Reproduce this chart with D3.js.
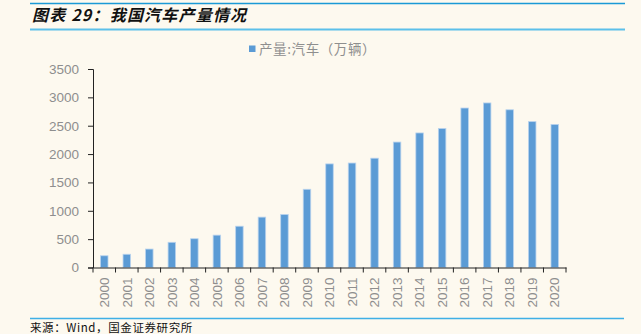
<!DOCTYPE html>
<html>
<head>
<meta charset="utf-8">
<script src="https://cdn.jsdelivr.net/npm/d3@7/dist/d3.min.js"></script>
<style>
  html, body { margin: 0; padding: 0; background: #fdf9ef; }
  svg { display: block; }
</style>
</head>
<body>
<svg id="chart" width="641" height="334"></svg>
<script>
// China vehicle production, 10k units
const years = ["2000","2001","2002","2003","2004","2005","2006","2007","2008","2009","2010",
               "2011","2012","2013","2014","2015","2016","2017","2018","2019","2020"];
const production = [206.9, 233.4, 325.1, 444.4, 507.1, 570.5, 727.9, 888.2, 934.5, 1379.1, 1826.5,
                    1841.9, 1927.2, 2211.7, 2372.5, 2450.3, 2811.9, 2901.5, 2780.9, 2572.1, 2522.5];
const yTicks = [0, 500, 1000, 1500, 2000, 2500, 3000, 3500];
const titleText = "图表 29：我国汽车产量情况";
const seriesName = "产量:汽车（万辆）";
const sourceText = "来源：Wind，国金证券研究所";

const svg = d3.select("#chart");
const W = 641, H = 334;
svg.append("rect").attr("width", W).attr("height", H).attr("fill", "#fdf9ef");

const cjk = "'Noto Sans CJK SC', 'Noto Sans', sans-serif";
const latin = "'Liberation Sans', Arial, sans-serif";

// header rules and title
svg.append("line").attr("x1", 30).attr("x2", 625).attr("y1", 3.5).attr("y2", 3.5)
  .attr("stroke", "#1b9ad6").attr("stroke-width", 1.3);
svg.append("line").attr("x1", 30).attr("x2", 625).attr("y1", 29.5).attr("y2", 29.5)
  .attr("stroke", "#5cc0ea").attr("stroke-width", 2);
svg.append("text").attr("x", 32).attr("y", 21)
  .attr("font-family", cjk).attr("font-size", 16).attr("font-weight", "bold")
  .attr("font-style", "italic").attr("letter-spacing", 1.2).attr("fill", "#111")
  .text(titleText);

// footer rule and source
svg.append("line").attr("x1", 30).attr("x2", 624).attr("y1", 318.5).attr("y2", 318.5)
  .attr("stroke", "#3fb0e6").attr("stroke-width", 1.3);
svg.append("text").attr("x", 30).attr("y", 331.5)
  .attr("font-family", cjk).attr("font-size", 11.5).attr("letter-spacing", 0.6).attr("fill", "#111")
  .text(sourceText);

// scales
const x = d3.scaleBand().domain(years).range([93, 566]).paddingInner(0).paddingOuter(0);
const y = d3.scaleLinear().domain([0, 3500]).range([267.5, 69]);
const barW = 7.5;

// bars
svg.append("g").selectAll("rect").data(years).join("rect")
  .attr("x", d => x(d) + x.bandwidth() / 2 - barW / 2)
  .attr("width", barW)
  .attr("y", (d, i) => y(production[i]))
  .attr("height", (d, i) => y(0) - y(production[i]))
  .attr("fill", "#5b9bd5")
  .attr("stroke", "#b9d3ee").attr("stroke-width", 0.8);

// y axis
const yAxis = svg.append("g").attr("transform", "translate(93,0)")
  .call(d3.axisLeft(y).tickValues(yTicks).tickSize(5).tickPadding(9).tickFormat(d3.format("d")));
yAxis.select(".domain").attr("stroke", "#222");
yAxis.selectAll(".tick line").attr("stroke", "#222");
yAxis.selectAll("text").attr("font-family", latin).attr("font-size", 13.5).attr("fill", "#8e8e8e");

// x axis with ticks at category boundaries
const xAxis = svg.append("g").attr("transform", `translate(0,${y(0)})`)
  .call(d3.axisBottom(x).tickSize(0).tickSizeOuter(0));
xAxis.select(".domain").attr("stroke", "#222");
xAxis.selectAll(".tick text")
  .attr("font-family", latin).attr("font-size", 13.5).attr("fill", "#8e8e8e")
  .attr("transform", "rotate(-90)")
  .attr("text-anchor", "end")
  .attr("dy", "0.35em")
  .attr("x", -10).attr("y", 0);
const bounds = years.map(d => x(d)).concat([x.range()[1]]);
xAxis.selectAll(".bound").data(bounds).join("line").attr("class", "bound")
  .attr("x1", d => d).attr("x2", d => d).attr("y1", 0).attr("y2", 5)
  .attr("stroke", "#222");

// legend
svg.append("rect").attr("x", 249).attr("y", 45.5).attr("width", 6.5).attr("height", 6.5).attr("fill", "#5b9bd5");
svg.append("text").attr("x", 259).attr("y", 54)
  .attr("font-family", cjk).attr("font-size", 13.5).attr("letter-spacing", 0.6).attr("fill", "#8e8e8e")
  .text(seriesName);
</script>
</body>
</html>
